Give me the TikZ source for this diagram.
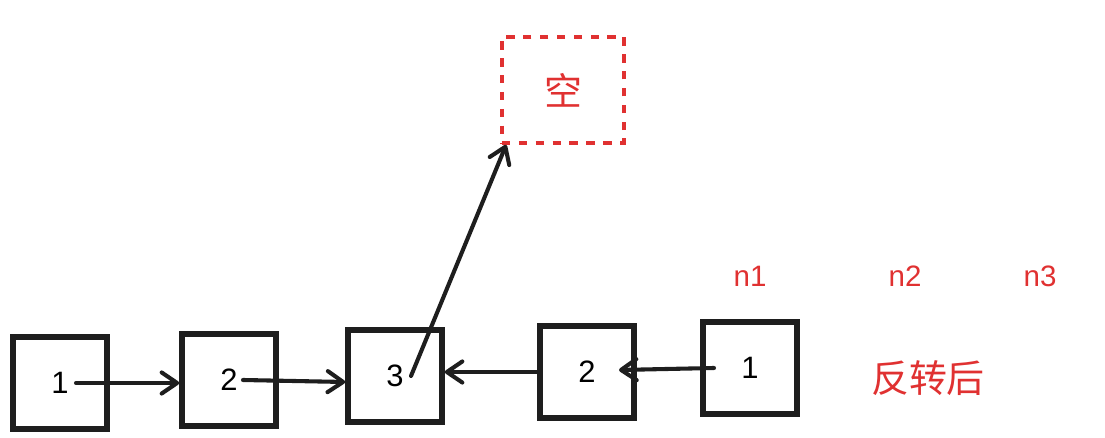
\documentclass[tikz,border=0pt]{standalone}
\usepackage{fontspec}
\setsansfont{Liberation Sans}
\newfontfamily\cjk{Noto Sans CJK SC}
\usetikzlibrary{positioning,arrows.meta}
\definecolor{hand}{RGB}{30,30,30}
\definecolor{mark}{RGB}{224,49,49}
\tikzset{
  cell/.style={
    draw = hand,
    line width = 4pt,
    minimum width = 2.35cm,
    minimum height = 2.3cm,
    inner sep = 0pt,
    font = \sffamily\fontsize{22}{24}\selectfont
  },
  link/.style={
    draw = hand,
    line width = 2.9pt,
    line cap = round,
    -{Straight Barb[length=11pt,width=15pt,line width=2.9pt,round]}
  },
  nil/.style={
    draw = mark,
    line width = 2.6pt,
    dash pattern = on 6pt off 6pt,
    minimum width = 3.05cm,
    minimum height = 2.65cm,
    text = mark,
    font = \cjk\fontsize{27}{30}\selectfont
  },
  tag/.style={
    text = mark,
    font = \sffamily\fontsize{21}{24}\selectfont
  }
}
\begin{document}
\begin{tikzpicture}[x=0.025cm,y=-0.025cm]
  \useasboundingbox (0,0) rectangle (1105,438);
  % original list
  \node[cell] (a1) at (60,383) {1};
  \node[cell] (a2) at (229,380) {2};
  \node[cell] (a3) at (395,376) {3};
  % reversed part
  \node[cell] (b2) at (587,372) {2};
  \node[cell] (b1) at (750,368) {1};
  \node[nil] (nil) at (563,90) {空};
  \draw[link] ([xshift=0.4cm]a1.center) -- (a1.center -| a2.west);
  \draw[link] ([xshift=0.35cm]a2.center) -- ([yshift=-0.05cm]a2.center -| a3.west);
  \draw[link] (b2.west) -- (b2.west -| a3.east);
  \draw[link] ([xshift=-0.9cm]b1.center) -- ([xshift=0.8cm,yshift=0.05cm]b2.center);
  \draw[link] ([xshift=0.4cm]a3.center) -- ([xshift=0.15cm]nil.south west);
  \foreach \i/\x in {1/750,2/905,3/1040}
    \node[tag] (n\i) at (\x,276) {n\i};
  \node[tag,font=\cjk\fontsize{27}{30}\selectfont] (done) at (928,378) {反转后};
\end{tikzpicture}
\end{document}
